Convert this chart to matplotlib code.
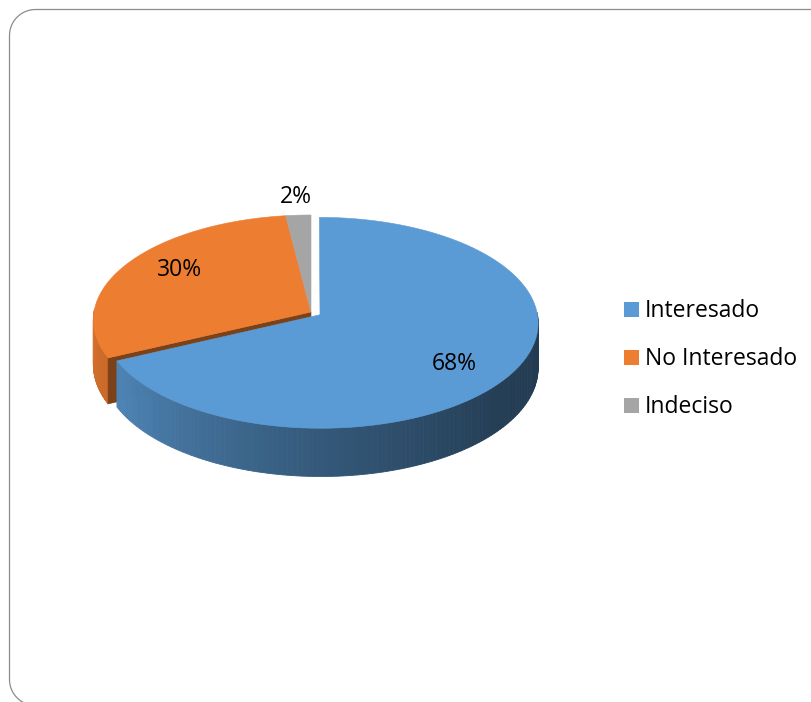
import numpy as np
import matplotlib.pyplot as plt
from matplotlib.colors import to_rgb
from matplotlib.patches import Polygon, Rectangle

plt.rcParams['font.family'] = ['Open Sans', 'DejaVu Sans']

# Survey result
labels = ['Interesado', 'No Interesado', 'Indeciso']
shares = [68, 30, 2]
colors = ['#5B9BD5', '#ED7D31', '#A5A5A5']
explode = [0.049, 0.0, 0.0]

# 3D pie geometry, in pixels
cx, cy = 311, 312
rx, ry = 217, 104.4
k = 0.0762      # perspective strength
depth = 44.5    # wall height


def proj(x, z, h=0.0):
    s = 1.0 / (1.0 + k * z)
    return cx + rx * x * s, cy - ry * z * s + depth * h * s


def shade(rgb, f):
    return tuple(np.clip(np.array(rgb) * f, 0, 1))


def wall_factor(t):
    t = np.mod(t, 360)
    return np.interp(t, [180, 210, 270, 320, 360], [0.9, 0.84, 0.57, 0.40, 0.38])


fig = plt.figure(figsize=(8.12, 7.02), dpi=100)
ax = fig.add_axes([0, 0, 1, 1])
ax.set_xlim(0, 812)
ax.set_ylim(702, 0)
ax.axis('off')

# chart frame with rounded corners (runs past the right and bottom edges)
x0, y0, x1, y1, rad = 9.5, 9.5, 840, 705.5, 26
q = np.linspace(0, np.pi / 2, 20)
fx = np.concatenate([x0 + rad - rad * np.cos(q), x1 - rad + rad * np.sin(q),
                     x1 - rad + rad * np.cos(q), x0 + rad - rad * np.sin(q)])
fy = np.concatenate([y0 + rad - rad * np.sin(q), y0 + rad - rad * np.cos(q),
                     y1 - rad + rad * np.sin(q), y1 - rad + rad * np.cos(q)])
ax.add_patch(Polygon(np.column_stack([fx, fy]), closed=True,
                     fc='none', ec='#8C8C8C', lw=0.9))

frac = np.array(shares, dtype=float) / sum(shares)
ends = 90 - 360 * np.cumsum(frac)
starts = ends + 360 * frac
mids = (starts + ends) / 2
n = len(shares)


def draw_slice(i):
    rgb = np.array(to_rgb(colors[i]))
    ox = explode[i] * np.cos(np.radians(mids[i]))
    oz = explode[i] * np.sin(np.radians(mids[i]))

    def rim(t, h=0.0):
        r = np.radians(t)
        return proj(np.cos(r) + ox, np.sin(r) + oz, h)

    # outer wall, front half only
    ts = np.linspace(starts[i], ends[i], 200)
    for a, b in zip(ts[:-1], ts[1:]):
        m = (a + b) / 2
        if np.sin(np.radians(m)) > 0.02:
            continue
        c = shade(rgb, wall_factor(m))
        ax.add_patch(Polygon([rim(a), rim(b), rim(b, 1), rim(a, 1)],
                             closed=True, fc=c, ec=c, lw=0.6))

    # radial cut faces: only where a neighbour is pulled out and the face looks forward
    faces = ((starts[i], starts[i] + 90, (i - 1) % n),
             (ends[i], ends[i] - 90, (i + 1) % n))
    for t, normal, nb in faces:
        opened = explode[i] > 0 or explode[nb] > 0
        if opened and np.sin(np.radians(normal)) < -0.05:
            c = shade(rgb, 0.52)
            ax.add_patch(Polygon([proj(ox, oz), rim(t), rim(t, 1), proj(ox, oz, 1)],
                                 closed=True, fc=c, ec=c, lw=0.4))

    # top face
    pts = [proj(ox, oz)] + [rim(t) for t in ts]
    ax.add_patch(Polygon(pts, closed=True, fc=colors[i], ec=colors[i], lw=0.4))


for i in [1, 2, 0]:
    draw_slice(i)

# percentage labels
for i in range(n):
    ox = explode[i] * np.cos(np.radians(mids[i]))
    oz = explode[i] * np.sin(np.radians(mids[i]))
    if frac[i] < 0.05:
        r, t = 1.2, np.radians(mids[i])
    else:
        r, t = 0.75, np.radians(mids[i] - 5)
    x, y = proj(r * np.cos(t) + ox, r * np.sin(t) + oz)
    ax.text(x, y, f'{shares[i]}%', ha='center', va='center',
            fontsize=16.5, color='#000000')

# legend
for j, (lab, col) in enumerate(zip(labels, colors)):
    base = 317 + 48 * j
    ax.add_patch(Rectangle((624, base - 15), 15, 15, fc=col, ec='none'))
    ax.text(645, base, lab, ha='left', va='baseline', fontsize=16.5, color='#000000')

fig.savefig('out.png', dpi=100)
